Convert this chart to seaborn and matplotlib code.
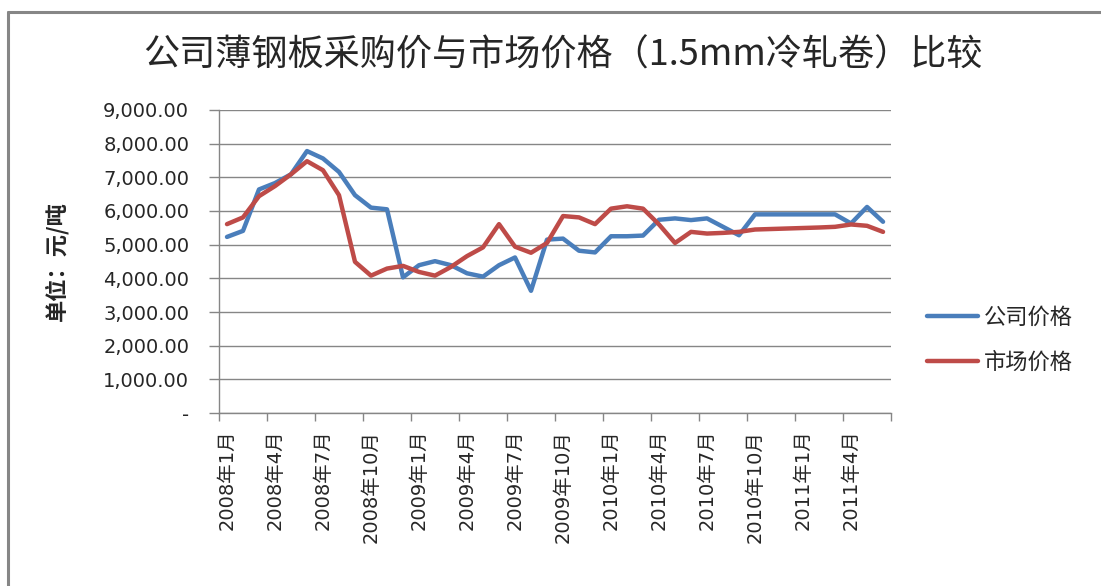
import numpy as np
import pandas as pd
import matplotlib
matplotlib.use("Agg")
import matplotlib.pyplot as plt
from matplotlib.lines import Line2D
from matplotlib.ticker import FixedLocator, FuncFormatter
import seaborn as sns

# 2008年1月 — 2011年6月, 42 个月
ANOS = [2008, 2009, 2010, 2011]
MESES = [f"{a}年{m}月" for a in ANOS for m in range(1, 13)][:42]

PRECO_EMPRESA = [5230, 5410, 6640, 6830, 7090, 7780, 7560, 7160, 6470, 6100,
                 6050, 4030, 4390, 4510, 4390, 4150, 4050, 4390, 4620, 3630,
                 5150, 5180, 4820, 4770, 5250, 5250, 5270, 5740, 5780, 5730,
                 5780, 5530, 5280, 5900, 5900, 5900, 5900, 5900, 5900, 5630,
                 6120, 5680]
PRECO_MERCADO = [5610, 5810, 6440, 6740, 7090, 7480, 7210, 6470, 4490, 4080,
                 4290, 4370, 4190, 4080, 4340, 4660, 4920, 5610, 4940, 4760,
                 5050, 5850, 5810, 5610, 6070, 6140, 6070, 5600, 5050, 5380,
                 5330, 5350, 5380, 5450, 5465, 5480, 5495, 5510, 5530, 5600,
                 5560, 5380]

SERIES = ["公司价格", "市场价格"]
CORES = {"公司价格": "#4A7EBB", "市场价格": "#BE4B48"}
Y_TICKS = [0, 1000, 2000, 3000, 4000, 5000, 6000, 7000, 8000, 9000]

TITULO = "公司薄钢板采购价与市场价格（1.5mm冷轧卷）比较"
Y_LABEL = "单位：元/吨"

CJK = ["Noto Sans CJK SC", "DejaVu Sans"]
MISTO = ["DejaVu Sans", "Noto Sans CJK SC"]

df = pd.DataFrame({
    "idx": list(range(len(MESES))) * 2,
    "valor": PRECO_EMPRESA + PRECO_MERCADO,
    "serie": [SERIES[0]] * len(MESES) + [SERIES[1]] * len(MESES),
})

sns.set_style("white")
plt.rcParams["font.family"] = MISTO

fig = plt.figure(figsize=(11.01, 5.86), dpi=100)
ax = fig.add_axes([0.1989, 0.2952, 0.6104, 0.5171])

sns.lineplot(data=df, x="idx", y="valor", hue="serie", palette=CORES,
             hue_order=SERIES, lw=3.2, ax=ax, legend=False)

ax.set_xlim(-0.5, len(MESES) - 0.5)
ax.set_ylim(0, 9000)

# eixo y
ax.set_yticks(Y_TICKS)
ax.yaxis.set_major_formatter(FuncFormatter(lambda v, p: "-" if v == 0 else f"{v:,.2f}"))
ax.tick_params(axis="y", which="major", length=7, width=1, color="#868686",
               labelsize=14, pad=14.5, left=True)
ax.grid(axis="y", color="#868686", lw=1)
ax.set_axisbelow(True)

# eixo x: rótulos a cada 3 meses, marcas entre categorias
posicoes = list(range(0, len(MESES), 3))
ax.set_xticks(posicoes)
ax.set_xticklabels([MESES[i] for i in posicoes], rotation=90, fontsize=14, family=MISTO)
ax.tick_params(axis="x", which="major", length=0, pad=12)
ax.xaxis.set_minor_locator(FixedLocator(np.arange(-0.5, len(MESES), 3)))
ax.tick_params(axis="x", which="minor", length=6, width=1, color="#868686", bottom=True)

for lado in ["top", "right"]:
    ax.spines[lado].set_visible(False)
for lado in ["left", "bottom"]:
    ax.spines[lado].set_color("#868686")
    ax.spines[lado].set_linewidth(1)

ax.set_xlabel("")
ax.set_ylabel(Y_LABEL, fontsize=16, fontweight="bold", family=CJK, labelpad=25)

fig.text(0.511, 0.905, TITULO, ha="center", va="center", fontsize=26, family=CJK)

# legenda
handles = [Line2D([0], [0], color=CORES[s], lw=3.2) for s in SERIES]
fig.legend(handles, SERIES, loc="center left", bbox_to_anchor=(0.842, 0.42),
           frameon=False, handlelength=2.3, handletextpad=0.25,
           labelspacing=1.0, borderpad=0, borderaxespad=0, prop={"family": CJK, "size": 16})

# moldura do gráfico
fig.add_artist(Line2D([8 / 1101, 8 / 1101], [0, 1 - 12 / 586], color="#868686", lw=2.2,
                      transform=fig.transFigure))
fig.add_artist(Line2D([8 / 1101, 1], [1 - 12 / 586, 1 - 12 / 586], color="#868686", lw=2.2,
                      transform=fig.transFigure))

fig.savefig("out.png", dpi=100)
